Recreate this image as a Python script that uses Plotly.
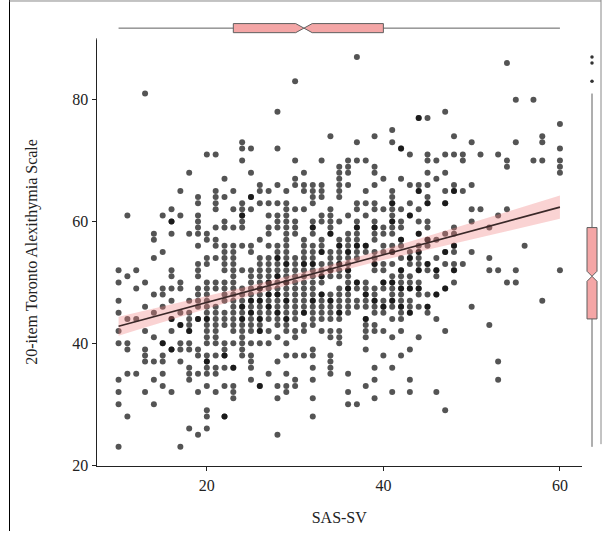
import numpy as np
import plotly.graph_objects as go

# ---- data (SAS-SV score -> TAS-20 scores) ----
tas_at_sas = {
    10: [23, 30, 32, 34, 40, 42, 45, 47, 50, 52],
    11: [28, 35, 39, 40, 44, 51, 61],
    12: [35, 44, 49, 52],
    13: [32, 37, 38, 39, 42, 46, 50, 81],
    14: [30, 34, 37, 41, 45, 48, 54, 57, 58],
    15: [33, 35, 37, 38, 40, 40, 46, 48, 49, 55, 61],
    16: [32, 39, 39, 42, 44, 44, 47, 49, 51, 52, 58, 60, 60, 62],
    17: [23, 37, 39, 40, 43, 43, 45, 49, 50, 61, 65],
    18: [26, 34, 35, 36, 39, 40, 42, 42, 43, 44, 45, 47, 58, 68],
    19: [25, 32, 35, 38, 39, 44, 44, 46, 47, 48, 49, 51, 52, 53, 56, 58, 59, 60, 61, 63, 64],
    20: [26, 28, 29, 33, 35, 36, 37, 37, 38, 40, 41, 42, 43, 44, 44, 45, 46, 47, 48, 49, 50, 53, 54, 57, 58, 71],
    21: [32, 35, 36, 38, 40, 41, 42, 43, 44, 45, 46, 49, 50, 54, 56, 57, 59, 62, 63, 64, 65, 71],
    22: [28, 28, 33, 36, 38, 38, 39, 40, 43, 44, 45, 47, 48, 49, 50, 52, 53, 54, 55, 56, 59, 60, 64, 67],
    23: [31, 32, 33, 36, 36, 40, 42, 43, 44, 45, 46, 47, 48, 49, 50, 51, 52, 53, 54, 55, 56, 59, 62, 65],
    24: [38, 39, 40, 41, 42, 43, 44, 44, 45, 46, 46, 47, 48, 49, 52, 56, 59, 60, 61, 61, 62, 63, 70, 72, 73],
    25: [34, 36, 37, 38, 40, 42, 43, 44, 45, 45, 46, 47, 47, 48, 49, 50, 51, 52, 55, 56, 62, 64, 64, 68, 72],
    26: [33, 33, 40, 42, 42, 43, 44, 44, 45, 46, 47, 47, 48, 49, 49, 50, 51, 52, 53, 54, 57, 63, 65, 66],
    27: [35, 40, 42, 44, 45, 46, 46, 47, 48, 48, 49, 50, 50, 51, 52, 53, 54, 56, 58, 59, 61, 63, 65],
    28: [25, 31, 33, 37, 41, 43, 44, 45, 45, 46, 47, 48, 48, 49, 50, 51, 51, 52, 53, 54, 54, 55, 56, 59, 60, 61, 63, 66, 72, 78],
    29: [32, 33, 35, 38, 40, 42, 43, 44, 44, 45, 46, 47, 47, 48, 49, 50, 50, 51, 52, 53, 53, 54, 55, 56, 57, 58, 59, 60, 61, 62, 63, 65],
    30: [33, 34, 38, 41, 42, 44, 45, 46, 47, 48, 49, 50, 51, 52, 53, 54, 58, 59, 60, 62, 66, 67, 70, 83],
    31: [38, 42, 43, 45, 45, 46, 47, 48, 49, 50, 51, 52, 53, 53, 54, 55, 56, 57, 62, 65, 66, 68],
    32: [28, 31, 34, 36, 38, 39, 43, 44, 45, 46, 47, 47, 48, 49, 50, 51, 52, 53, 53, 54, 55, 56, 58, 59, 59, 60, 63, 64, 65, 66],
    33: [42, 44, 45, 46, 47, 48, 48, 50, 51, 51, 52, 53, 55, 55, 56, 57, 60, 61, 64, 65, 66, 70],
    34: [35, 36, 37, 38, 41, 42, 44, 45, 46, 47, 47, 48, 51, 52, 52, 53, 54, 55, 58, 58, 59, 60, 61, 62, 74],
    35: [40, 41, 42, 44, 45, 45, 46, 47, 48, 49, 51, 52, 53, 53, 54, 55, 56, 56, 57, 60, 64, 65, 66, 67, 68, 69],
    36: [30, 32, 35, 45, 46, 47, 48, 49, 49, 50, 51, 52, 52, 53, 54, 55, 55, 56, 57, 58, 61, 66, 68, 69, 70],
    37: [30, 46, 47, 49, 50, 50, 54, 55, 56, 56, 57, 58, 59, 59, 60, 62, 63, 70, 73, 87],
    38: [33, 39, 41, 42, 43, 44, 44, 46, 47, 48, 48, 49, 50, 55, 56, 56, 61, 63, 65, 70],
    39: [31, 34, 36, 42, 43, 45, 46, 47, 47, 48, 49, 52, 53, 53, 54, 55, 57, 58, 59, 59, 60, 62, 63, 66, 68, 69, 74],
    40: [38, 42, 45, 46, 46, 47, 49, 50, 50, 52, 53, 55, 56, 58, 59, 62, 67],
    41: [32, 36, 41, 44, 46, 47, 47, 48, 49, 50, 50, 51, 53, 55, 55, 56, 58, 59, 60, 60, 61, 62, 63, 63, 64, 65, 73, 75],
    42: [38, 42, 44, 45, 46, 46, 47, 48, 49, 49, 50, 51, 52, 52, 54, 56, 57, 57, 59, 60, 62, 67, 72, 72],
    43: [32, 34, 39, 45, 45, 46, 47, 49, 49, 50, 51, 53, 54, 54, 55, 61, 61, 63, 66, 71],
    44: [41, 46, 48, 49, 49, 50, 52, 52, 53, 54, 55, 55, 56, 58, 58, 60, 62, 65, 65, 66, 77, 77],
    45: [45, 46, 46, 48, 52, 53, 53, 56, 57, 57, 59, 60, 63, 63, 64, 66, 68, 70, 71, 77],
    46: [32, 44, 48, 48, 51, 52, 52, 54, 57, 67, 70],
    47: [29, 42, 49, 49, 53, 55, 55, 58, 63, 63, 65, 68, 71, 78],
    48: [50, 52, 52, 53, 55, 56, 56, 58, 59, 65, 65, 66, 71, 74],
    49: [53, 65, 70, 71],
    50: [46, 55, 60, 62, 66, 73],
    51: [62, 71],
    52: [43, 52, 54, 59],
    53: [34, 37, 52, 61, 71],
    54: [50, 62, 69, 70, 86],
    55: [50, 52, 73, 80],
    56: [56],
    57: [70, 80],
    58: [47, 70, 73, 74],
    60: [52, 68, 69, 70, 72, 76],
}
x_ticks = [20, 40, 60]
y_ticks = [20, 40, 60, 80]
x_title = "SAS-SV"
y_title = "20-item Toronto Alexithymia Scale"

sas, tas = [], []
for score, values in tas_at_sas.items():
    sas += [score] * len(values)
    tas += values
sas = np.array(sas, dtype=float)
tas = np.array(tas, dtype=float)

# ---- linear fit with 95% confidence band ----
n = len(sas)
b1, b0 = np.polyfit(sas, tas, 1)
xg = np.linspace(sas.min(), sas.max(), 80)
yhat = b0 + b1 * xg
resid = tas - (b0 + b1 * sas)
s = np.sqrt(np.sum(resid ** 2) / (n - 2))
sxx = np.sum((sas - sas.mean()) ** 2)
se = s * np.sqrt(1.0 / n + (xg - sas.mean()) ** 2 / sxx)
tcrit = 1.963
lo, hi = yhat - tcrit * se, yhat + tcrit * se

W, H = 609, 538
def px(x):
    return x / W
def py(y):
    return 1 - y / H

FONT = "Liberation Serif, Times New Roman, serif"
BOX_FILL = "#F4A6A6"
BOX_LINE = "#5f5f5f"

fig = go.Figure()

fig.add_trace(go.Scatter(
    x=sas, y=tas, mode="markers",
    marker=dict(size=6, color="rgba(0,0,0,0.67)", line=dict(width=0)),
    hoverinfo="skip", showlegend=False, xaxis="x", yaxis="y"))

fig.add_trace(go.Scatter(
    x=np.concatenate([xg, xg[::-1]]), y=np.concatenate([hi, lo[::-1]]),
    fill="toself", fillcolor="rgba(240,128,128,0.35)", line=dict(width=0),
    mode="lines", hoverinfo="skip", showlegend=False, xaxis="x", yaxis="y"))

fig.add_trace(go.Scatter(
    x=xg, y=yhat, mode="lines", line=dict(color="#3a2828", width=1.6),
    hoverinfo="skip", showlegend=False, xaxis="x", yaxis="y"))

# top marginal box (SAS-SV)
fig.add_trace(go.Box(
    x=sas, y0=0, orientation="h", notched=True, notchwidth=0.5,
    width=0.8, whiskerwidth=0, boxpoints="outliers",
    fillcolor=BOX_FILL, line=dict(color=BOX_LINE, width=1),
    marker=dict(color="#333333", size=3),
    showlegend=False, hoverinfo="skip", xaxis="x", yaxis="y2"))

# right marginal box (TAS-20)
fig.add_trace(go.Box(
    y=tas, x0=0, orientation="v", notched=True, notchwidth=0.5,
    width=1.25, whiskerwidth=0, boxpoints="outliers",
    fillcolor=BOX_FILL, line=dict(color=BOX_LINE, width=1),
    marker=dict(color="#333333", size=3.5),
    showlegend=False, hoverinfo="skip", xaxis="x3", yaxis="y"))

axis_common = dict(
    showline=True, linecolor="#222222", linewidth=1, mirror=False,
    ticks="outside", ticklen=4, tickwidth=1, tickcolor="#222222",
    showgrid=False, zeroline=False,
    tickfont=dict(family=FONT, size=16, color="#222222"),
)

fig.update_layout(
    width=W, height=H,
    margin=dict(l=0, r=0, t=0, b=0),
    paper_bgcolor="white", plot_bgcolor="white",
    showlegend=False,
    xaxis=dict(domain=[px(96.5), px(582)], range=[7.5, 62.5],
               tickvals=x_ticks, anchor="y",
               title=dict(text=x_title, font=dict(family=FONT, size=16, color="#222222"), standoff=19),
               **axis_common),
    yaxis=dict(domain=[py(472.5), py(38)], range=[19.8, 90.2],
               tickvals=y_ticks, anchor="x",
               title=dict(text=y_title, font=dict(family=FONT, size=16, color="#222222"), standoff=30),
               **axis_common),
    yaxis2=dict(domain=[py(40), py(17)], range=[-1, 1], visible=False, anchor="x"),
    xaxis3=dict(domain=[px(584), px(600)], range=[-1, 1], visible=False, anchor="y"),
)

# figure frame lines of the reference
fig.add_shape(type="line", xref="paper", yref="paper", x0=px(9.5), x1=px(9.5), y0=0, y1=1,
              line=dict(color="black", width=1))
fig.add_shape(type="line", xref="paper", yref="paper", x0=px(9.5), x1=px(601), y0=py(1), y1=py(1),
              line=dict(color="#888888", width=1))
fig.add_shape(type="line", xref="paper", yref="paper", x0=px(601), x1=px(601), y0=py(0), y1=py(450),
              line=dict(color="#888888", width=1))

fig.write_html("out.html",
               config={"displayModeBar": False},
               post_script="document.body.style.margin='0px';document.body.style.overflow='hidden';")
